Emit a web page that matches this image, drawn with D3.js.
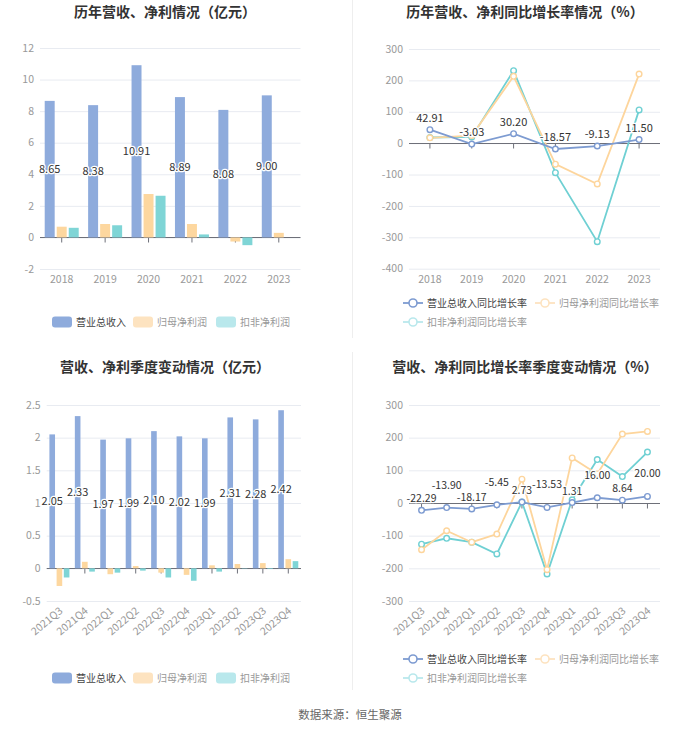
<!DOCTYPE html>
<html><head><meta charset="utf-8">
<script src="https://cdn.jsdelivr.net/npm/d3@7"></script>
<style>
html,body{margin:0;padding:0;background:#fff;}
text{font-family:"Microsoft YaHei","Noto Sans CJK SC",sans-serif;}
</style></head>
<body><svg id="c" width="700" height="734"></svg>
<script>
// ---------- DATA ----------
const years = ["2018","2019","2020","2021","2022","2023"];
const yearRevenue = [8.65, 8.38, 10.91, 8.89, 8.08, 9.00];
const yearNetProfit = [0.68, 0.85, 2.75, 0.85, -0.26, 0.29];
const yearDeductProfit = [0.61, 0.77, 2.64, 0.19, -0.49, null];
const yearRevenueGrowth = [42.91, -3.03, 30.20, -18.57, -9.13, 11.50];
const yearNetGrowth = [17, 24, 213, -67, -130, 220];
const yearDeductGrowth = [18, 20, 231, -94, -314, 106];

const quarters = ["2021Q3","2021Q4","2022Q1","2022Q2","2022Q3","2022Q4","2023Q1","2023Q2","2023Q3","2023Q4"];
const qRevenue = [2.05, 2.33, 1.97, 1.99, 2.10, 2.02, 1.99, 2.31, 2.28, 2.42];
const qNetProfit = [-0.27, 0.10, -0.09, 0.035, -0.066, -0.10, 0.046, 0.066, 0.08, 0.14];
const qDeductProfit = [-0.14, -0.05, -0.066, -0.035, -0.14, -0.19, -0.05, 0.005, -0.01, 0.11];
const qRevenueGrowth = [-22.29, -13.90, -18.17, -5.45, 2.73, -13.53, 1.31, 16.00, 8.64, 20.00];
const qNetGrowth = [-143, -85, -120, -95, 73, -204, 138, 89, 211, 219];
const qDeductGrowth = [-126, -108, -120, -156, 3, -217, 10, 133, 81, 156];

const barNames = ["营业总收入","归母净利润","扣非净利润"];
const lineNames = ["营业总收入同比增长率","归母净利润同比增长率","扣非净利润同比增长率"];
const yTicksYear = [-2,0,2,4,6,8,10,12];
const yTicksYearG = [-400,-300,-200,-100,0,100,200,300];
const yTicksQ = [-0.5,0,0.5,1,1.5,2,2.5];
const yTicksQG = [-300,-200,-100,0,100,200,300];

// ---------- STYLE ----------
const barColors = ["#8eabdc","#fdd79f","#7fd5d6"];
const lineColors = ["#7d9bd1","#fdd59c","#6fd0d3"];
const legendBarColors = ["#8eabdc","#fde3c0","#b9e8ec"];
const legendLineColors = ["#7d9bd1","#fde3c0","#b9e8ec"];

const svg = d3.select("#c");
const fmt = v => String(v).replace("\u2212","-");

// dividers
svg.append("line").attr("x1",352.5).attr("x2",352.5).attr("y1",0).attr("y2",338).attr("stroke","#eeeeee");
svg.append("line").attr("x1",352.5).attr("x2",352.5).attr("y1",352).attr("y2",690).attr("stroke","#eeeeee");

function title(x,y,t){
  svg.append("text").attr("x",x).attr("y",y).attr("text-anchor","middle")
    .attr("font-size",14).attr("font-weight","bold").attr("fill","#333").text(t);
}
title(165,17,"历年营收、净利情况（亿元）");
title(525,17,"历年营收、净利同比增长率情况（%）");
title(165,372,"营收、净利季度变动情况（亿元）");
title(525,372,"营收、净利同比增长率季度变动情况（%）");

function frame(g, x, y, ticks, labelY, rotate){
  const [x0,x1] = x.range();
  g.selectAll(".grid").data(ticks).join("line")
    .attr("x1",x0).attr("x2",x1).attr("y1",d=>y(d)+0.5).attr("y2",d=>y(d)+0.5)
    .attr("stroke","#e8ebf1");
  g.selectAll(".yl").data(ticks).join("text")
    .attr("x",x0-6).attr("y",d=>y(d)).attr("dy","0.35em").attr("text-anchor","end")
    .attr("font-size",10.5).attr("fill","#999").text(d=>fmt(d));
  g.append("line").attr("x1",x0).attr("x2",x1).attr("y1",Math.round(y(0))+0.5).attr("y2",Math.round(y(0))+0.5)
    .attr("stroke","#6e7079");
  g.selectAll(".tk").data(x.domain()).join("line")
    .attr("x1",d=>x(d)+x.bandwidth()/2).attr("x2",d=>x(d)+x.bandwidth()/2)
    .attr("y1",Math.round(y(0))+0.5).attr("y2",Math.round(y(0))+5.5).attr("stroke","#6e7079");
  const lab = g.selectAll(".xl").data(x.domain()).join("text")
    .attr("font-size",10.5).attr("fill","#999").text(d=>d);
  if(rotate){
    lab.attr("text-anchor","end")
      .attr("transform",d=>`translate(${x(d)+x.bandwidth()/2+4},${labelY}) rotate(-40)`);
  } else {
    lab.attr("x",d=>x(d)+x.bandwidth()/2).attr("y",labelY).attr("text-anchor","middle");
  }
}

function bars(g, cats, x, y, series, halfW, inner){
  const sub = d3.scaleBand().domain(d3.range(series.length)).range([-halfW,halfW]).paddingInner(inner);
  series.forEach((vals,i)=>{
    g.append("g").selectAll("rect").data(cats.map((c,j)=>({c,v:vals[j]})).filter(d=>d.v!==null))
      .join("rect")
      .attr("x",d=>x(d.c)+x.bandwidth()/2+sub(i))
      .attr("width",sub.bandwidth())
      .attr("y",d=>Math.min(y(d.v),y(0)))
      .attr("height",d=>Math.abs(y(d.v)-y(0)))
      .attr("fill",barColors[i]);
  });
  g.append("g").selectAll("text").data(cats.map((c,j)=>({c,v:series[0][j]})))
    .join("text")
    .attr("x",d=>x(d.c)+x.bandwidth()/2+sub(0)+sub.bandwidth()/2)
    .attr("y",d=>y(d.v/2)).attr("dy","0.35em").attr("text-anchor","middle")
    .attr("font-size",11).attr("fill","#333")
    .attr("stroke","#fff").attr("stroke-width",2.5).attr("paint-order","stroke")
    .text(d=>d.v.toFixed(2));
}

function lines(g, cats, x, y, series, stagger){
  const cx = c => x(c)+x.bandwidth()/2;
  [2,1,0].forEach(i=>{
    const data = cats.map((c,j)=>({c,v:series[i][j]}));
    g.append("path").datum(data)
      .attr("d",d3.line().x(d=>cx(d.c)).y(d=>y(d.v)))
      .attr("fill","none").attr("stroke",lineColors[i]).attr("stroke-width",1.8);
  });
  [2,1,0].forEach(i=>{
    const data = cats.map((c,j)=>({c,v:series[i][j]}));
    g.append("g").selectAll("circle").data(data).join("circle")
      .attr("cx",d=>cx(d.c)).attr("cy",d=>y(d.v)).attr("r",2.8)
      .attr("fill","#fff").attr("stroke",lineColors[i]).attr("stroke-width",1.4);
  });
  g.append("g").selectAll("text").data(cats.map((c,j)=>({c,v:series[0][j],j})))
    .join("text")
    .attr("x",d=>cx(d.c))
    .attr("y",d=>y(d.v)-8-(stagger && d.j%2===1 ? 11 : 0))
    .attr("text-anchor","middle")
    .attr("font-size",stagger?10.5:11).attr("fill","#333")
    .attr("stroke","#fff").attr("stroke-width",2.5).attr("paint-order","stroke")
    .text(d=>d.v.toFixed(2));
}

function barLegend(y){
  const xs = [52,133,216];
  barNames.forEach((n,i)=>{
    svg.append("rect").attr("x",xs[i]).attr("y",y-5.5).attr("width",20).attr("height",11).attr("rx",3)
      .attr("fill",legendBarColors[i]);
    svg.append("text").attr("x",xs[i]+24).attr("y",y).attr("dy","0.35em")
      .attr("font-size",10).attr("fill",i===0?"#444":"#999").text(n);
  });
}
function lineLegend(y1,y2){
  const pos = [[403,y1],[535,y1],[403,y2]];
  lineNames.forEach((n,i)=>{
    const [x,y] = pos[i];
    svg.append("line").attr("x1",x).attr("x2",x+20).attr("y1",y).attr("y2",y)
      .attr("stroke",legendLineColors[i]).attr("stroke-width",1.8);
    svg.append("circle").attr("cx",x+10).attr("cy",y).attr("r",4)
      .attr("fill","#fff").attr("stroke",legendLineColors[i]).attr("stroke-width",1.6);
    svg.append("text").attr("x",x+24).attr("y",y).attr("dy","0.35em")
      .attr("font-size",10).attr("fill",i===0?"#444":"#999").text(n);
  });
}

// ---------- Chart 1 ----------
{
  const g = svg.append("g");
  const x = d3.scaleBand().domain(years).range([40,300.5]);
  const y = d3.scaleLinear().domain([-2,12]).range([269,48]);
  frame(g,x,y,yTicksYear,283,false);
  bars(g,years,x,y,[yearRevenue,yearNetProfit,yearDeductProfit],17,0.17);
  barLegend(322);
}
// ---------- Chart 2 ----------
{
  const g = svg.append("g");
  const x = d3.scaleBand().domain(years).range([409,660]);
  const y = d3.scaleLinear().domain([-400,300]).range([268.7,49]);
  frame(g,x,y,yTicksYearG,283,false);
  lines(g,years,x,y,[yearRevenueGrowth,yearNetGrowth,yearDeductGrowth],false);
  lineLegend(303,322);
}
// ---------- Chart 3 ----------
{
  const g = svg.append("g");
  const x = d3.scaleBand().domain(quarters).range([46.7,301]);
  const y = d3.scaleLinear().domain([-0.5,2.5]).range([601,405]);
  frame(g,x,y,yTicksQ,612,true);
  bars(g,quarters,x,y,[qRevenue,qNetProfit,qDeductProfit],10,0.22);
  barLegend(678);
}
// ---------- Chart 4 ----------
{
  const g = svg.append("g");
  const x = d3.scaleBand().domain(quarters).range([409,660]);
  const y = d3.scaleLinear().domain([-300,300]).range([601,405]);
  frame(g,x,y,yTicksQG,612,true);
  lines(g,quarters,x,y,[qRevenueGrowth,qNetGrowth,qDeductGrowth],true);
  lineLegend(659,678);
}
svg.append("text").attr("x",350).attr("y",719).attr("text-anchor","middle")
  .attr("font-size",11.5).attr("fill","#666").text("数据来源：恒生聚源");
</script>
</body></html>
